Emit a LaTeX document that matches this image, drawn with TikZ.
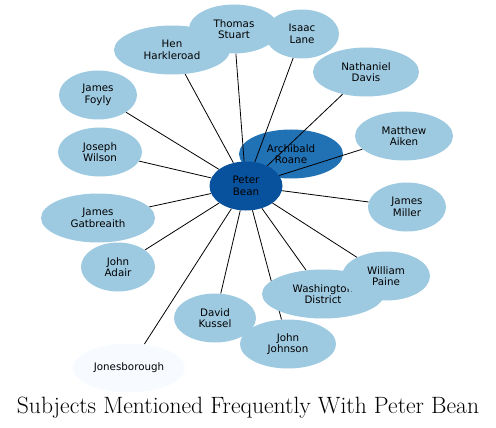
\documentclass[tikz,border=0pt]{standalone}
\usepackage{fontspec}
\newfontfamily\labelfont{DejaVu Sans}
\usetikzlibrary{shapes.geometric}

\pgfdeclarelayer{back}
\pgfdeclarelayer{edges}
\pgfsetlayers{back,edges,main}

\definecolor{leaf}{HTML}{9ECAE1}
\definecolor{near}{HTML}{2171B5}
\definecolor{hub}{HTML}{08519C}
\definecolor{faint}{HTML}{F7FBFF}

\begin{document}
\begin{tikzpicture}[
  x=1pt,
  y=-1pt,
  subject/.style={
    ellipse,
    fill=leaf,
    inner sep=0pt,
    minimum height=49pt,
    minimum width=#1,
    align=center,
    font=\labelfont\fontsize{10.3}{11.5}\selectfont
  },
  link/.style={
    draw=black,
    line width=0.8pt
  }
]
\useasboundingbox (0,0) rectangle (496,428);

% Nodes
\begin{pgfonlayer}{back}
\node[subject=104pt, fill=near] (ar) at (291,154) {Archibald\\Roane};
\end{pgfonlayer}
\node[subject=116pt] (hh) at (172,50) {Hen\\Harkleroad};
\node[subject=90pt] (ts) at (234,29) {Thomas\\Stuart};
\node[subject=74pt] (il) at (302,34) {Isaac\\Lane};
\node[subject=106pt] (nd) at (366,72) {Nathaniel\\Davis};
\node[subject=78pt] (jf) at (98,95) {James\\Foyly};
\node[subject=98pt] (ma) at (404,136) {Matthew\\Aiken};
\node[subject=84pt] (jw) at (100,152) {Joseph\\Wilson};
\node[subject=78pt] (jm) at (407,207) {James\\Miller};
\node[subject=114pt] (jg) at (98,218) {James\\Gatbreaith};
\node[subject=74pt] (ja) at (118,267) {John\\Adair};
\node[subject=122pt] (wd) at (323,294) {Washington\\District};
\node[subject=88pt] (wp) at (386,276) {William\\Paine};
\node[subject=82pt] (dk) at (215,318) {David\\Kussel};
\node[subject=96pt] (jj) at (288,344) {John\\Johnson};
\node[subject=112pt, fill=faint] (jb) at (129,368) {Jonesborough};
\node[subject=73pt, fill=hub] (pb) at (246,186) {Peter\\Bean};

\node[font=\fontsize{23.6}{28}\selectfont] (title) at (248,408) {Subjects Mentioned Frequently With Peter Bean};

% Links
\begin{pgfonlayer}{edges}
\draw[link] (pb) -- (ar);
\draw[link] (pb) -- (hh);
\draw[link] (pb) -- (ts);
\draw[link] (pb) -- (il);
\draw[link] (pb) -- (nd);
\draw[link] (pb) -- (jf);
\draw[link] (pb) -- (ma);
\draw[link] (pb) -- (jw);
\draw[link] (pb) -- (jm);
\draw[link] (pb) -- (jg);
\draw[link] (pb) -- (ja);
\draw[link] (pb) -- (wd);
\draw[link] (pb) -- (wp);
\draw[link] (pb) -- (dk);
\draw[link] (pb) -- (jj);
\draw[link] (pb) -- (jb);
\end{pgfonlayer}

\end{tikzpicture}
\end{document}
